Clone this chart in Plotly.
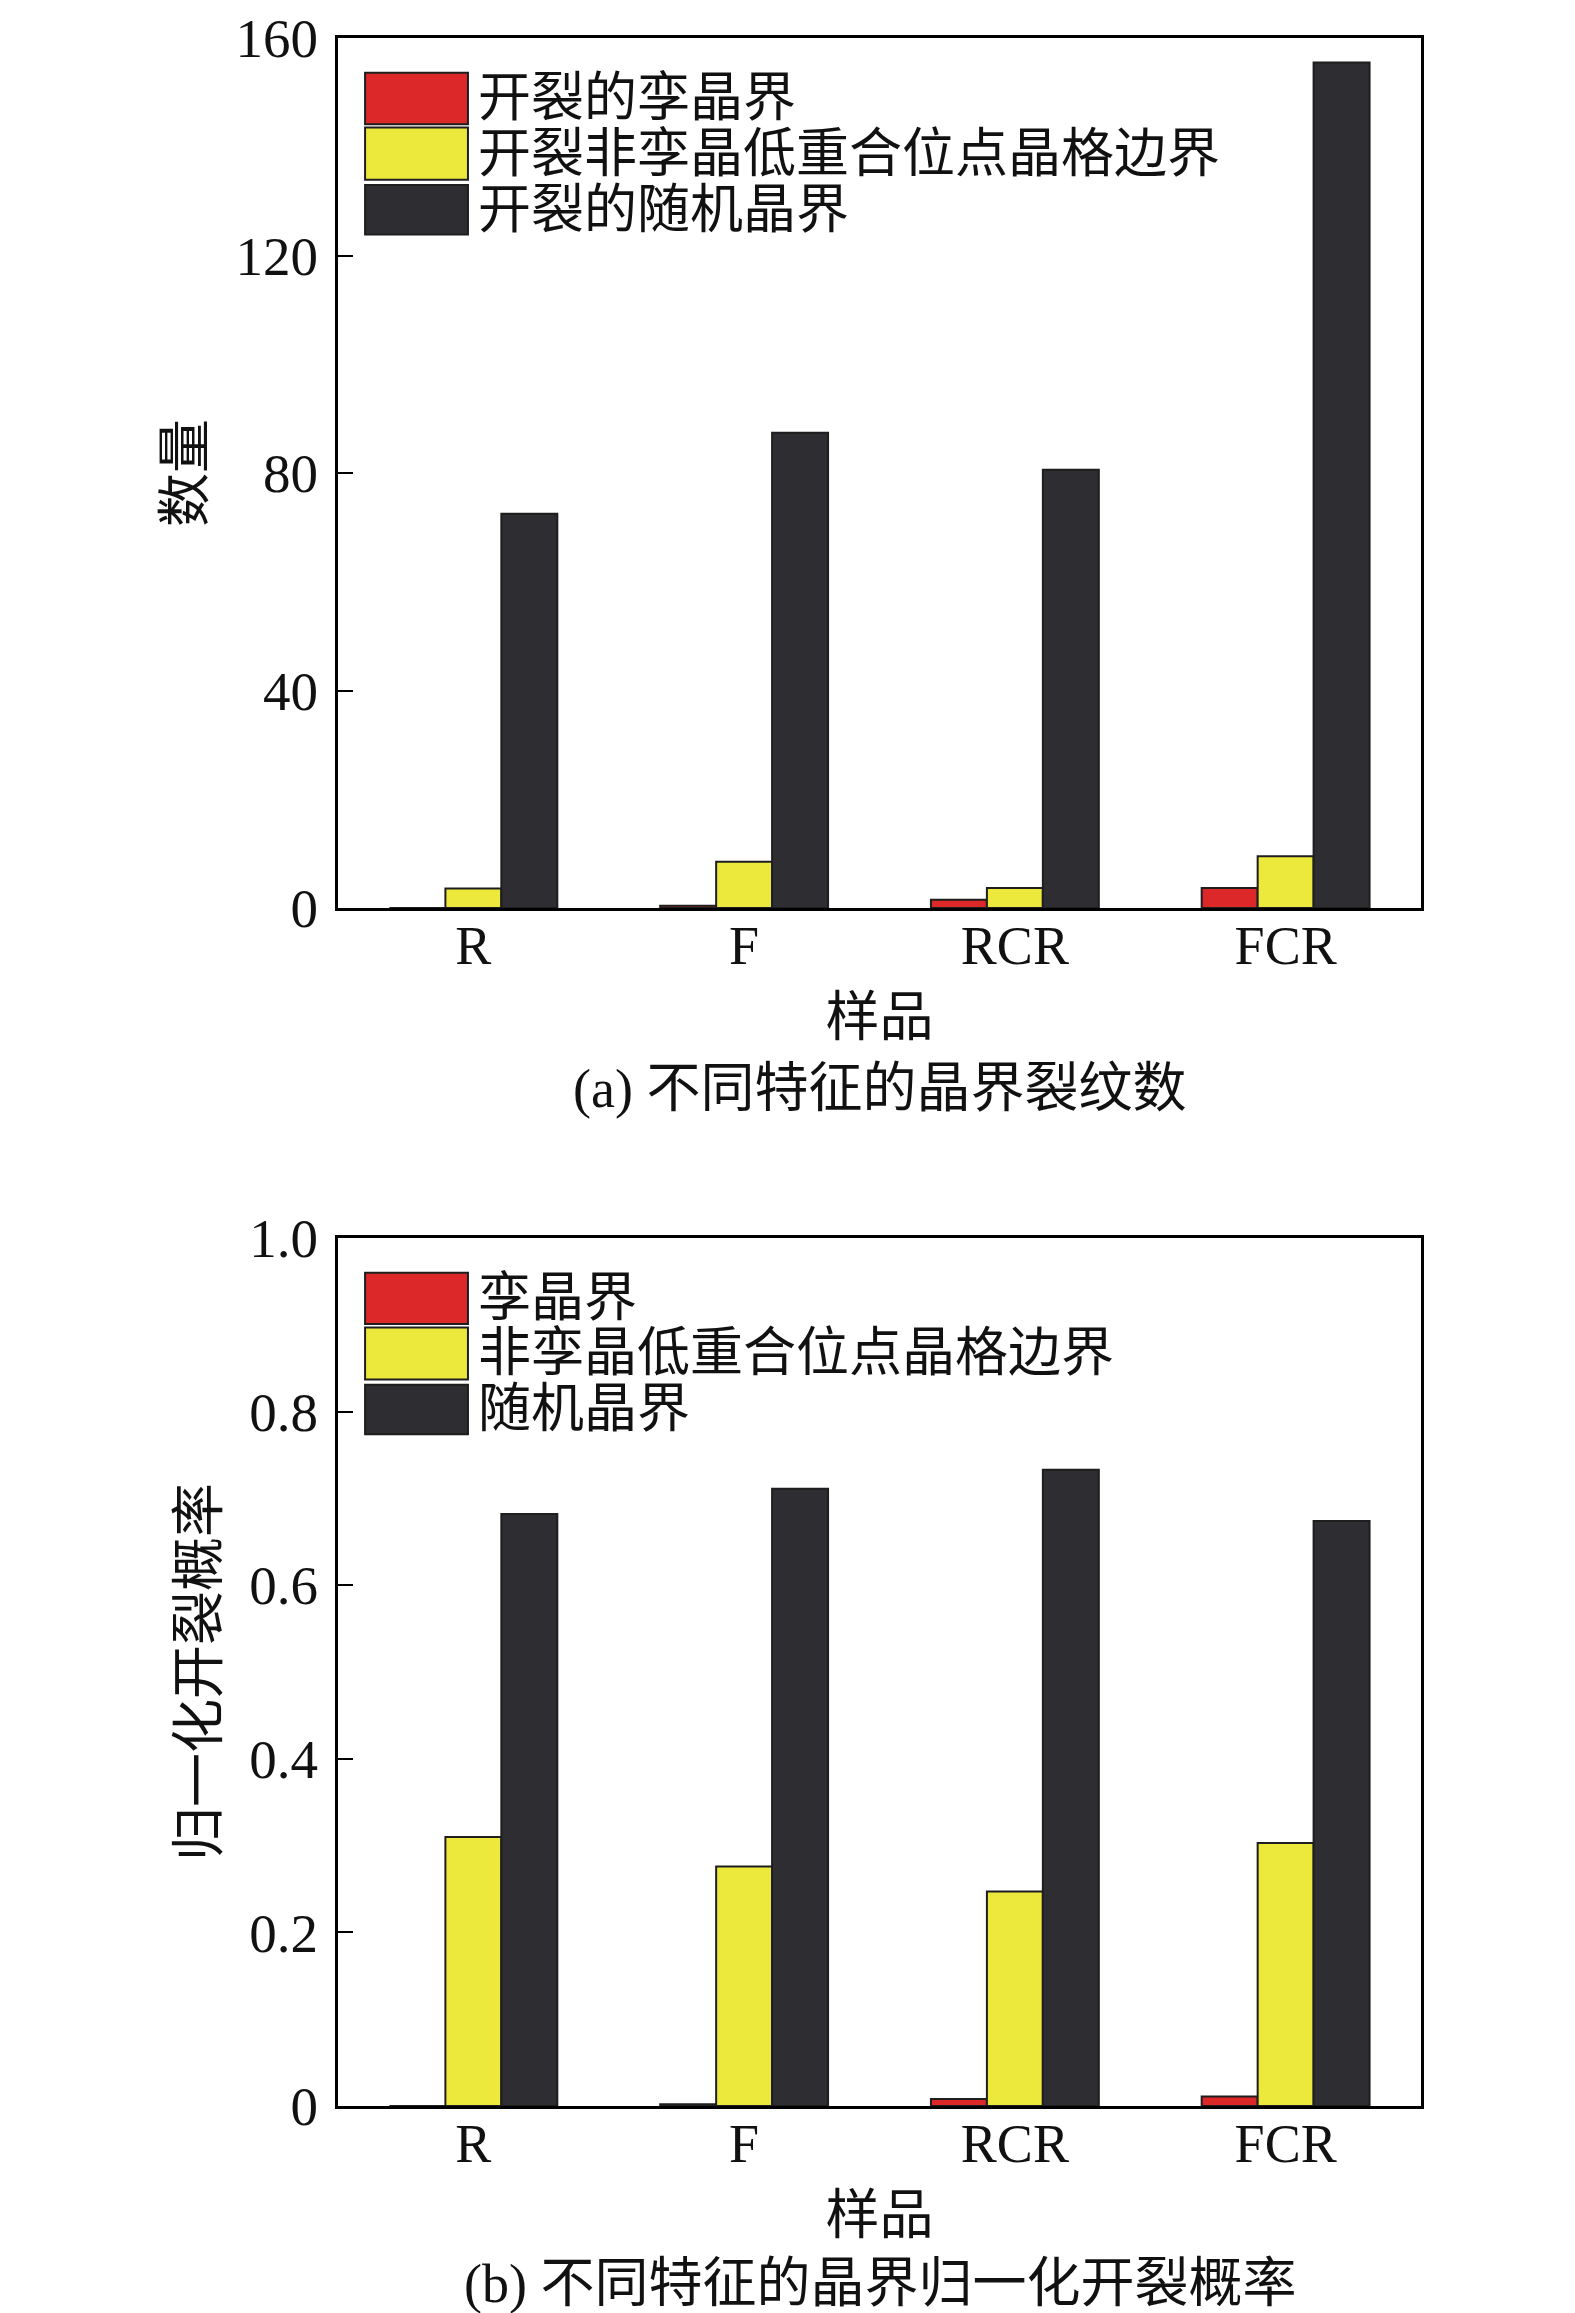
import plotly.graph_objects as go

# samples on the x axis
samples = ["R", "F", "RCR", "FCR"]

# (a) number of cracked grain boundaries
count_twin = [0, 0.4, 1.5, 3.7]
count_lowcsl = [3.6, 8.5, 3.7, 9.5]
count_random = [72.5, 87.4, 80.6, 155.5]

# (b) normalized cracking probability
prob_twin = [0, 0.002, 0.008, 0.011]
prob_lowcsl = [0.31, 0.276, 0.247, 0.303]
prob_random = [0.682, 0.711, 0.733, 0.674]

names_a = ["开裂的孪晶界", "开裂非孪晶低重合位点晶格边界", "开裂的随机晶界"]
names_b = ["孪晶界", "非孪晶低重合位点晶格边界", "随机晶界"]

ticks_a = [0, 40, 80, 120, 160]
ticks_b = [0, 0.2, 0.4, 0.6, 0.8, 1.0]
ticktext_b = ["0", "0.2", "0.4", "0.6", "0.8", "1.0"]

colors = ["#dc2828", "#ece93c", "#2d2d32"]
FONT = "Liberation Serif, Noto Sans CJK SC"
W, H = 1575, 2313

fig = go.Figure()

series_a = [count_twin, count_lowcsl, count_random]
series_b = [prob_twin, prob_lowcsl, prob_random]
for i in range(3):
    fig.add_trace(go.Bar(x=samples, y=series_a[i], name=names_a[i],
                         marker=dict(color=colors[i], line=dict(color="#1e1e1e", width=2)),
                         xaxis="x", yaxis="y", showlegend=False))
for i in range(3):
    fig.add_trace(go.Bar(x=samples, y=series_b[i], name=names_b[i],
                         marker=dict(color=colors[i], line=dict(color="#1e1e1e", width=2)),
                         xaxis="x2", yaxis="y2", showlegend=False))

xdom = [330 / W, 1413 / W]
ydom_a = [1 - 900 / H, 1 - 30 / H]
ydom_b = [1 - 2098 / H, 1 - 1230 / H]

xcommon = dict(domain=xdom, range=[-0.5, 3.5], showline=True, linecolor="black",
               linewidth=3, mirror=True, ticks="", showgrid=False, automargin=False,
               tickfont=dict(family=FONT, size=54, color="#111"),
               ticklabelstandoff=-12,
               title=dict(text="样品", font=dict(family=FONT, size=54, color="#111"),
                          standoff=24))
ycommon = dict(showline=True, linecolor="black", linewidth=3, mirror=True,
               ticks="inside", ticklen=15, tickwidth=2, tickcolor="black",
               showgrid=False, zeroline=False, automargin=False,
               tickfont=dict(family=FONT, size=55, color="#111"),
               ticklabelstandoff=6)

fig.update_layout(
    width=W, height=H,
    margin=dict(l=0, r=0, t=0, b=0, autoexpand=False),
    paper_bgcolor="white", plot_bgcolor="white",
    barmode="group", bargap=0.38, bargroupgap=0,
    xaxis=dict(xcommon, anchor="y"),
    yaxis=dict(ycommon, domain=ydom_a, anchor="x", range=[0, 160],
               tickvals=ticks_a, ticktext=[str(t) for t in ticks_a],
               title=dict(text="数量", font=dict(family=FONT, size=54, color="#111"),
                          standoff=14)),
    xaxis2=dict(xcommon, anchor="y2"),
    yaxis2=dict(ycommon, domain=ydom_b, anchor="x2", range=[0, 1.0],
                tickvals=ticks_b, ticktext=ticktext_b,
                title=dict(text="归一化开裂概率", font=dict(family=FONT, size=54, color="#111"),
                           standoff=14)),
)

# hand-drawn legends with large swatches, as in the figure
box_y = [(0.901, 0.960), (0.837, 0.897), (0.774, 0.831)]
for ax, names in (("", names_a), ("2", names_b)):
    for i in range(3):
        y0, y1 = box_y[i]
        fig.add_shape(type="rect", xref="x" + ax + " domain", yref="y" + ax + " domain",
                      x0=0.025, x1=0.12, y0=y0, y1=y1,
                      fillcolor=colors[i], line=dict(color="#1e1e1e", width=2))
        fig.add_annotation(xref="x" + ax + " domain", yref="y" + ax + " domain",
                           x=0.127, y=(y0 + y1) / 2, text=names[i], showarrow=False,
                           xanchor="left", yanchor="middle",
                           font=dict(family=FONT, size=53, color="#111"))

captions = [("(a) 不同特征的晶界裂纹数", 1 - 1081 / H), ("(b) 不同特征的晶界归一化开裂概率", 1 - 2276 / H)]
for text, y in captions:
    fig.add_annotation(xref="paper", yref="paper", x=(xdom[0] + xdom[1]) / 2, y=y,
                       text=text, showarrow=False, xanchor="center", yanchor="middle",
                       font=dict(family=FONT, size=54, color="#111"))

fig.write_html("out.html")
